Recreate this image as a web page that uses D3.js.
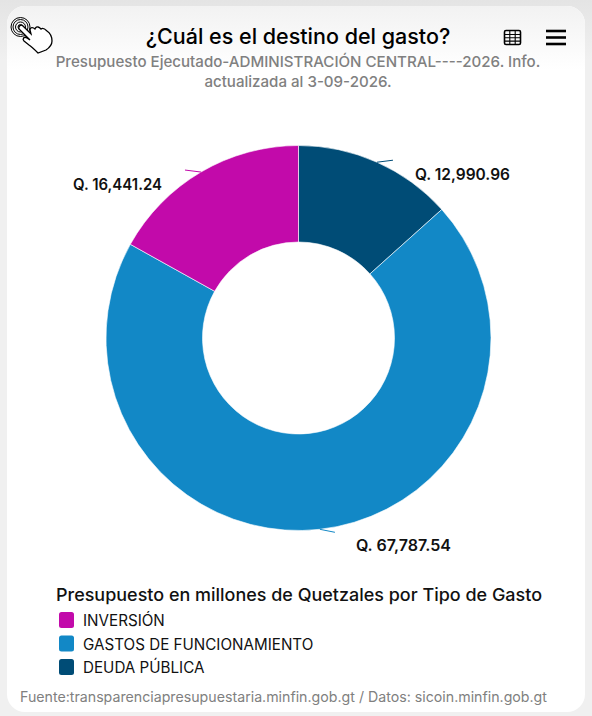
<!DOCTYPE html>
<html>
<head>
<meta charset="utf-8">
<script src="https://cdn.jsdelivr.net/npm/d3@7"></script>
<style>
  html, body { margin: 0; padding: 0; background: #f0f0f0; }
  text { font-family: Inter, "Open Sans", sans-serif; }
</style>
</head>
<body>
<svg id="chart" width="592" height="716"></svg>
<script>
const categories = ['DEUDA PÚBLICA', 'GASTOS DE FUNCIONAMIENTO', 'INVERSIÓN'];
const values = [12990.96, 67787.54, 16441.24];
const valueLabels = ['Q. 12,990.96', 'Q. 67,787.54', 'Q. 16,441.24'];
const colors = ['#004c76', '#1288c6', '#c20aaa'];
const legendOrder = ['INVERSIÓN', 'GASTOS DE FUNCIONAMIENTO', 'DEUDA PÚBLICA'];

const titleText = '¿Cuál es el destino del gasto?';
const subtitleLines = ['Presupuesto Ejecutado-ADMINISTRACIÓN CENTRAL----2026. Info.', 'actualizada al 3-09-2026.'];
const legendTitle = 'Presupuesto en millones de Quetzales por Tipo de Gasto';
const sourceText = 'Fuente:transparenciapresupuestaria.minfin.gob.gt / Datos: sicoin.minfin.gob.gt';

const svg = d3.select('#chart');
const cx = 298.5, cy = 338, outer = 192.5, inner = 96;

// card background
const defs = svg.append('defs');
const grad = defs.append('linearGradient').attr('id', 'cardTop')
  .attr('x1', 0).attr('y1', 0).attr('x2', 0).attr('y2', 1);
grad.append('stop').attr('offset', 0).attr('stop-color', '#f2f2f2');
grad.append('stop').attr('offset', 1).attr('stop-color', '#ffffff');
const gradOut = defs.append('linearGradient').attr('id', 'pageTop')
  .attr('x1', 0).attr('y1', 0).attr('x2', 0).attr('y2', 1);
gradOut.append('stop').attr('offset', 0).attr('stop-color', '#e4e4e4');
gradOut.append('stop').attr('offset', 1).attr('stop-color', '#f0f0f0');

svg.append('rect').attr('width', 592).attr('height', 716).attr('fill', '#f0f0f0');
svg.append('rect').attr('width', 592).attr('height', 60).attr('fill', 'url(#pageTop)');
svg.append('rect').attr('x', 7).attr('y', 6).attr('width', 578).attr('height', 706)
  .attr('rx', 18).attr('fill', '#fff');
svg.append('path').attr('fill', 'url(#cardTop)')
  .attr('d', 'M7 70V24a18 18 0 0 1 18-18H567a18 18 0 0 1 18 18V70Z');

// donut
const pie = d3.pie().sort(null).value(d => d);
const arc = d3.arc().innerRadius(inner).outerRadius(outer);
const arcs = pie(values);
const g = svg.append('g').attr('transform', `translate(${cx},${cy})`);

g.selectAll('path.slice')
  .data(arcs)
  .join('path')
  .attr('class', 'slice')
  .attr('d', arc)
  .attr('fill', (d, i) => colors[i])
  .attr('stroke', '#fff')
  .attr('stroke-width', 0.6);

// connectors and value labels, placed from the slice mid angle
const midAngle = d => (d.startAngle + d.endAngle) / 2;
const lineEnd = [[16, -2], [15, 3], [-16, -2]];
const labelPos = [[38, 18], [36, 22], [-128, 18]];
const labelWidth = [95, 95, 89];

g.selectAll('path.connector')
  .data(arcs)
  .join('path')
  .attr('class', 'connector')
  .attr('fill', 'none')
  .attr('stroke', (d, i) => colors[i])
  .attr('stroke-width', 1)
  .attr('d', (d, i) => {
    const x = Math.sin(midAngle(d)) * outer, y = -Math.cos(midAngle(d)) * outer;
    return `M${x},${y}L${x + lineEnd[i][0]},${y + lineEnd[i][1]}`;
  });

g.selectAll('text.value')
  .data(arcs)
  .join('text')
  .attr('class', 'value')
  .attr('x', (d, i) => Math.sin(midAngle(d)) * outer + labelPos[i][0])
  .attr('y', (d, i) => -Math.cos(midAngle(d)) * outer + labelPos[i][1])
  .attr('font-size', 15.5)
  .attr('font-weight', 600)
  .attr('fill', '#111')
  .attr('textLength', (d, i) => labelWidth[i])
  .attr('lengthAdjust', 'spacingAndGlyphs')
  .text((d, i) => valueLabels[i]);

// titles
svg.append('text').attr('x', 298).attr('y', 44).attr('text-anchor', 'middle')
  .attr('font-size', 21.5).attr('font-weight', 500).attr('fill', '#000').text(titleText);
svg.selectAll('text.sub')
  .data(subtitleLines)
  .join('text')
  .attr('class', 'sub')
  .attr('x', 298)
  .attr('y', (d, i) => 67 + i * 20)
  .attr('text-anchor', 'middle')
  .attr('font-size', 15.1)
  .attr('font-weight', 500)
  .attr('fill', '#808080')
  .text(d => d);

// legend
svg.append('text').attr('x', 56).attr('y', 601)
  .attr('font-size', 17.3).attr('font-weight', 500).attr('fill', '#111')
  .attr('textLength', 486).attr('lengthAdjust', 'spacingAndGlyphs').text(legendTitle);
const legendY = d3.scalePoint().domain(legendOrder).range([620, 667]);
const legend = svg.selectAll('g.leg')
  .data(legendOrder)
  .join('g')
  .attr('class', 'leg')
  .attr('transform', d => `translate(0,${legendY(d)})`);
legend.append('rect')
  .attr('x', 59).attr('y', -8).attr('width', 15).attr('height', 16).attr('rx', 2.5)
  .attr('fill', d => colors[categories.indexOf(d)]);
legend.append('text')
  .attr('x', 83).attr('y', 6)
  .attr('font-size', 15.2)
  .attr('fill', '#111')
  .text(d => d);

svg.append('text').attr('x', 20).attr('y', 702)
  .attr('font-size', 14.2).attr('fill', '#808080').text(sourceText);

// table button
const tbl = svg.append('g').attr('transform', 'translate(504.5,30.5)').attr('fill', 'none').attr('stroke', '#000');
tbl.append('rect').attr('width', 16).attr('height', 14).attr('rx', 1.5).attr('stroke-width', 1.6);
tbl.append('path').attr('stroke-width', 1.1).attr('d', 'M0 4H16M0 7.3H16M0 10.6H16M5.3 0V14M10.7 0V14');

// menu button
svg.append('g').attr('stroke', '#000').attr('stroke-width', 2.6)
  .selectAll('line')
  .data([31, 37.5, 44])
  .join('line')
  .attr('x1', 546).attr('x2', 566).attr('y1', d => d).attr('y2', d => d);

// touch icon
const hand = svg.append('g').attr('fill', 'none').attr('stroke', '#000');
hand.selectAll('circle')
  .data([2.5, 5, 7.5, 9.5])
  .join('circle')
  .attr('cx', 20.5).attr('cy', 27).attr('r', d => d).attr('stroke-width', 1);
hand.append('path').attr('fill', '#fff').attr('stroke-width', 1.3)
  .attr('d', 'M19 29C18 26 21 24 23 26L31 34L30 30C30 27 33 27 35 29L35.5 28C37 26 39 27 41 29C43 27 45 29 47 31C50 33 52 37 52 41C52 45 49 48 46 50L38 53C35 50 32 47 29 45L24 41C22 39 24 36 27 38L30 40Z');
</script>
</body>
</html>
